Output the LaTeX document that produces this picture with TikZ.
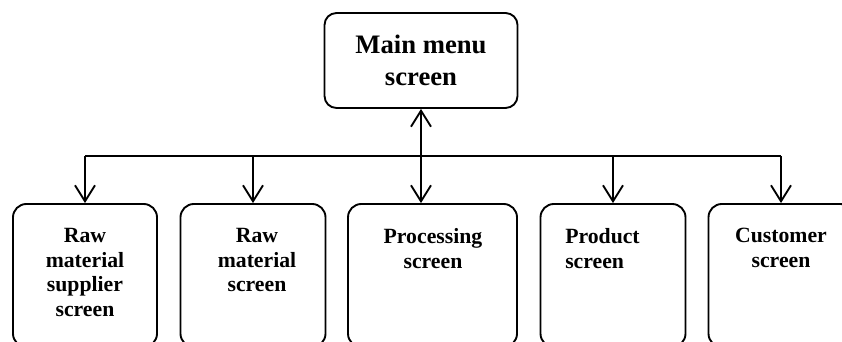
\documentclass[tikz,border=0pt]{standalone}
\usepackage{fontspec}
\setmainfont{Liberation Serif}
\usetikzlibrary{arrows.meta,positioning}
\tikzset{
	barb/.tip={Straight Barb[length=12pt,width=15pt,line width=1.4pt]},
	mainbox/.style={draw,line width=1.4pt,rounded corners=9pt,minimum width=144.75pt,minimum height=71.25pt,inner sep=0pt,align=center,font=\bfseries\fontsize{20}{24}\selectfont},
	screenbox/.style={draw,line width=1.4pt,rounded corners=10pt,minimum height=107.25pt,inner sep=0pt},
	screentext/.style={inner sep=0pt,anchor=north,align=center,font=\bfseries\fontsize{16.3}{18.5}\selectfont},
	link/.style={line width=1.4pt,-barb}
}

\begin{document}
\begin{tikzpicture}[x=0.75pt,y=-0.75pt]
	\useasboundingbox (0,0) rectangle (842,342);
	\clip (0,0) rectangle (842,342);
	\node[mainbox] (main) at (421,60.5) {Main menu\\screen};
	\foreach \nm/\cx/\bw in {supplier/85/108pt,material/253/108.75pt,processing/432.5/126.75pt,product/613/108.75pt,customer/781/108.75pt}
		\node[screenbox,minimum width=\bw] (\nm) at (\cx,275.5) {};
	\node[screentext] (supplier-t) at (85,228) {Raw\\material\\supplier\\screen};
	\node[screentext] (material-t) at (257,228) {Raw\\material\\screen};
	\node[screentext] (processing-t) at (433,228) {Processing\\screen};
	\node[screentext,anchor=north west,align=left] (product-t) at (565,228) {Product\\screen};
	\node[screentext] (customer-t) at (781,228) {Customer\\screen};
	\coordinate (bus) at (421,156);
	\draw[line width=1.4pt] (supplier.north |- bus) -- (customer.north |- bus);
	\foreach \nm in {supplier,material,product,customer}
		\draw[link] (\nm.north |- bus) -- (\nm.north);
	\draw[link,barb-barb] (main.south) -- (main.south |- processing.north);
\end{tikzpicture}
\end{document}
